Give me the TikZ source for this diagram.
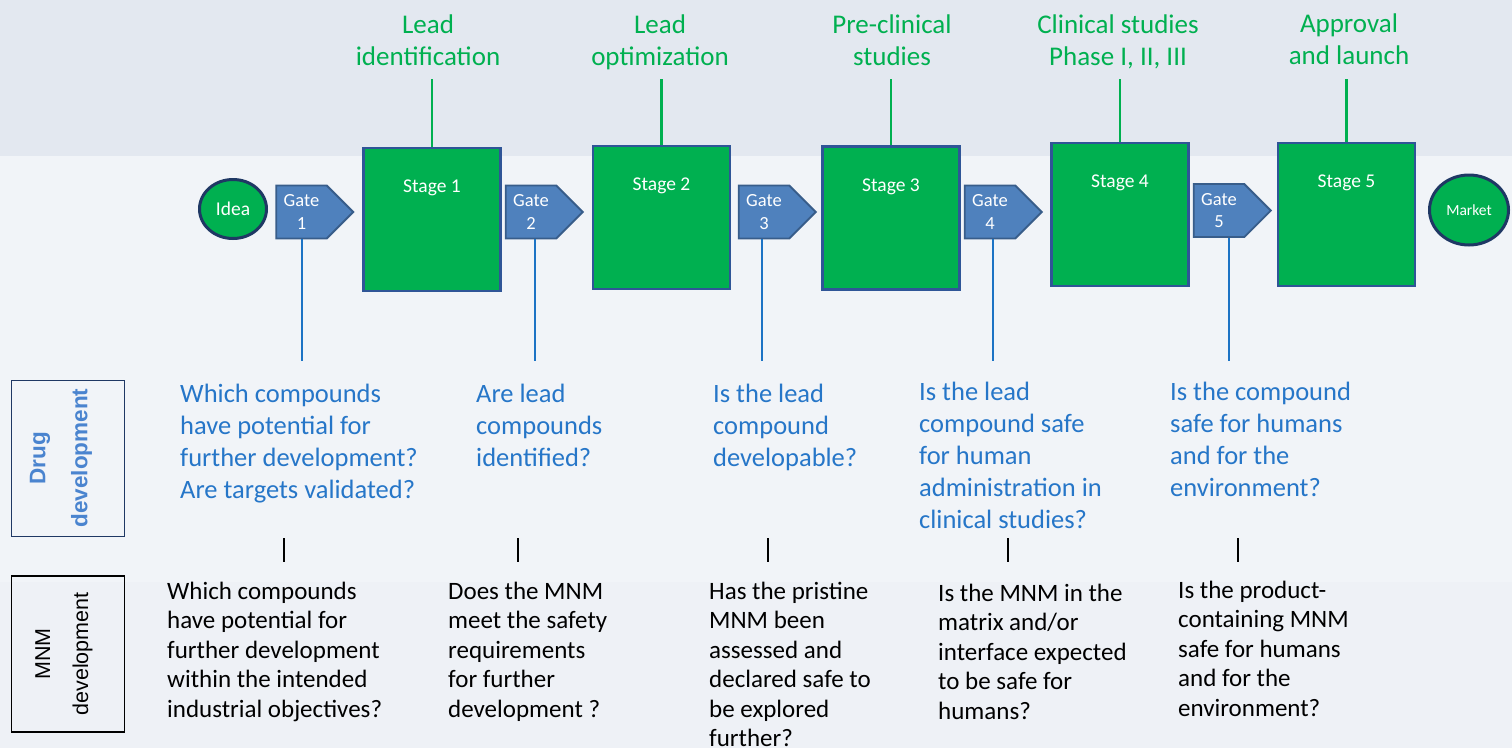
\documentclass[tikz,border=0pt]{standalone}
\usepackage{fontspec}
\setmainfont{Carlito}
\newfontfamily\arialfont{Liberation Sans}
\usetikzlibrary{shapes.geometric,shapes.symbols}

\definecolor{stagegreen}{HTML}{00B050}
\definecolor{stageedge}{HTML}{2F5597}
\definecolor{gateblue}{HTML}{4F81BD}
\definecolor{gateedge}{HTML}{385D8A}
\definecolor{navy}{HTML}{1F3864}
\definecolor{qblue}{HTML}{2676C8}
\definecolor{lineblue}{HTML}{1C73C4}
\definecolor{sideblue}{HTML}{4A84CF}
\definecolor{bgtop}{HTML}{E3E8F0}
\definecolor{bgmid}{HTML}{F1F4F8}
\definecolor{bgbot}{HTML}{EEF1F6}

\begin{document}
\begin{tikzpicture}[x=1pt,y=-1pt,
    stagebox/.style={rectangle, draw=stageedge, line width=2.5pt, fill=stagegreen,
        minimum width=137pt, minimum height=143pt, inner sep=0pt},
    stagetext/.style={text=white, font=\fontsize{19.5}{23}\selectfont, inner sep=0pt},
    gatebox/.style={signal, signal to=east, signal pointer angle=90, draw=gateedge,
        line width=1.8pt, fill=gateblue, text=white, align=center,
        font=\fontsize{18.5}{22.5}\selectfont, minimum width=77pt, minimum height=53pt, inner sep=0pt},
    endbox/.style={ellipse, draw=navy, line width=3pt, fill=stagegreen, text=white, inner sep=0pt},
    % multi-line texts sit on the baseline of their last line
    stagename/.style={text=stagegreen, font=\fontsize{27}{32}\selectfont, align=center,
        inner sep=0pt, anchor=base},
    drugq/.style={text=qblue, font=\fontsize{26.5}{32}\selectfont, align=left,
        inner sep=0pt, anchor=base west},
    mnmq/.style={text=black, font=\fontsize{25}{29.5}\selectfont, align=left,
        inner sep=0pt, anchor=base west},
    stageline/.style={draw=stagegreen, line width=2.5pt},
    gateline/.style={draw=lineblue, line width=1.6pt},
    sidebox/.style={rectangle, line width=1.4pt, minimum width=113pt, minimum height=156pt},
    sidetext/.style={rotate=90, align=center, inner sep=0pt}]

    % background bands
    \useasboundingbox (0,0) rectangle (1512,748);
    \fill[bgtop] (0,0) rectangle (1512,156);
    \fill[bgmid] (0,156) rectangle (1512,582);
    \fill[bgbot] (0,582) rectangle (1512,748);

    % process row
    \node[endbox, minimum width=67pt, minimum height=59pt, font=\fontsize{19.5}{23}\selectfont] (idea) at (233,209) {Idea};
    \node[gatebox] (g1) at (301.5,212) {Gate\\1};
    \node[stagebox] (s1) at (432,219.5) {};
    \node[gatebox] (g2) at (531,212) {Gate\\2};
    \node[stagebox] (s2) at (661.5,217.5) {};
    \node[gatebox] (g3) at (764,212) {Gate\\3};
    \node[stagebox] (s3) at (891,218) {};
    \node[gatebox] (g4) at (990,212) {Gate\\4};
    \node[stagebox] (s4) at (1120,214.5) {};
    \node[gatebox] (g5) at (1219,210.5) {Gate\\5};
    \node[stagebox] (s5) at (1346.5,214.5) {};
    \node[endbox, minimum width=79pt, minimum height=70pt, font=\fontsize{15.5}{18}\selectfont] (market) at (1469,210) {Market};

    \node[stagetext, below=33pt] at (s1.north) {Stage 1};
    \node[stagetext, below=33pt] at (s2.north) {Stage 2};
    \node[stagetext, below=33pt] at (s3.north) {Stage 3};
    \node[stagetext, below=33pt] at (s4.north) {Stage 4};
    \node[stagetext, below=33pt] at (s5.north) {Stage 5};

    % stage names on top
    \coordinate (ntop) at (0,79);
    \node[stagename] (n1) at (428,65) {Lead\\identification};
    \node[stagename] (n2) at (660,65) {Lead\\optimization};
    \node[stagename] (n3) at (892,65) {Pre-clinical\\studies};
    \node[stagename] (n4) at (1118,65) {Clinical studies\\Phase I, II, III};
    \node[stagename] (n5) at (1349,64) {Approval\\and launch};
    \foreach \s in {s1,s2,s3,s4,s5}{\draw[stageline] (\s.north) -- (\s.north |- ntop);}

    % gate questions
    \coordinate (d1) at (302,361);
    \coordinate (d2) at (535,361);
    \coordinate (d3) at (762,361);
    \coordinate (d4) at (993,361);
    \coordinate (d5) at (1229,361);
    \draw[gateline] (d1 |- g1.south) -- (d1);
    \draw[gateline] (d2 |- g2.south) -- (d2);
    \draw[gateline] (d3 |- g3.south) -- (d3);
    \draw[gateline] (d4 |- g4.south) -- (d4);
    \draw[gateline] (d5 |- g5.south) -- (d5);

    \node[drugq] (q1) at (180,498) {Which compounds\\have potential for\\further development?\\Are targets validated?};
    \node[drugq] (q2) at (476,466) {Are lead\\compounds\\identified?};
    \node[drugq] (q3) at (713,466) {Is the lead\\compound\\developable?};
    \node[drugq] (q4) at (919,528) {Is the lead\\compound safe\\for human\\administration in\\clinical studies?};
    \node[drugq] (q5) at (1170,496) {Is the compound\\safe for humans\\and for the\\environment?};

    \foreach \xp in {284,518,768,1008,1238}{\draw[line width=1.8pt] (\xp,538) -- (\xp,562);}

    \node[mnmq] (m1) at (167,717) {Which compounds\\have potential for\\further development\\within the intended\\industrial objectives?};
    \node[mnmq] (m2) at (448,717) {Does the MNM\\meet the safety\\requirements\\for further\\development ?};
    \node[mnmq] (m3) at (709,746.5) {Has the pristine\\MNM been\\assessed and\\declared safe to\\be explored\\further?};
    \node[mnmq] (m4) at (938,719) {Is the MNM in the\\matrix and/or\\interface expected\\to be safe for\\humans?};
    \node[mnmq] (m5) at (1178,716) {Is the product-\\containing MNM\\safe for humans\\and for the\\environment?};

    % row headers
    \node[sidebox, draw=navy] (drug) at (68,458.5) {};
    \node[sidetext, text=sideblue, font=\arialfont\bfseries\fontsize{22.5}{42}\selectfont] at (61,458) {Drug\\development};
    \node[sidebox, draw=black] (mnm) at (68,654) {};
    \node[sidetext, font=\arialfont\fontsize{21.5}{38}\selectfont] at (64,654) {MNM\\development};
\end{tikzpicture}
\end{document}
